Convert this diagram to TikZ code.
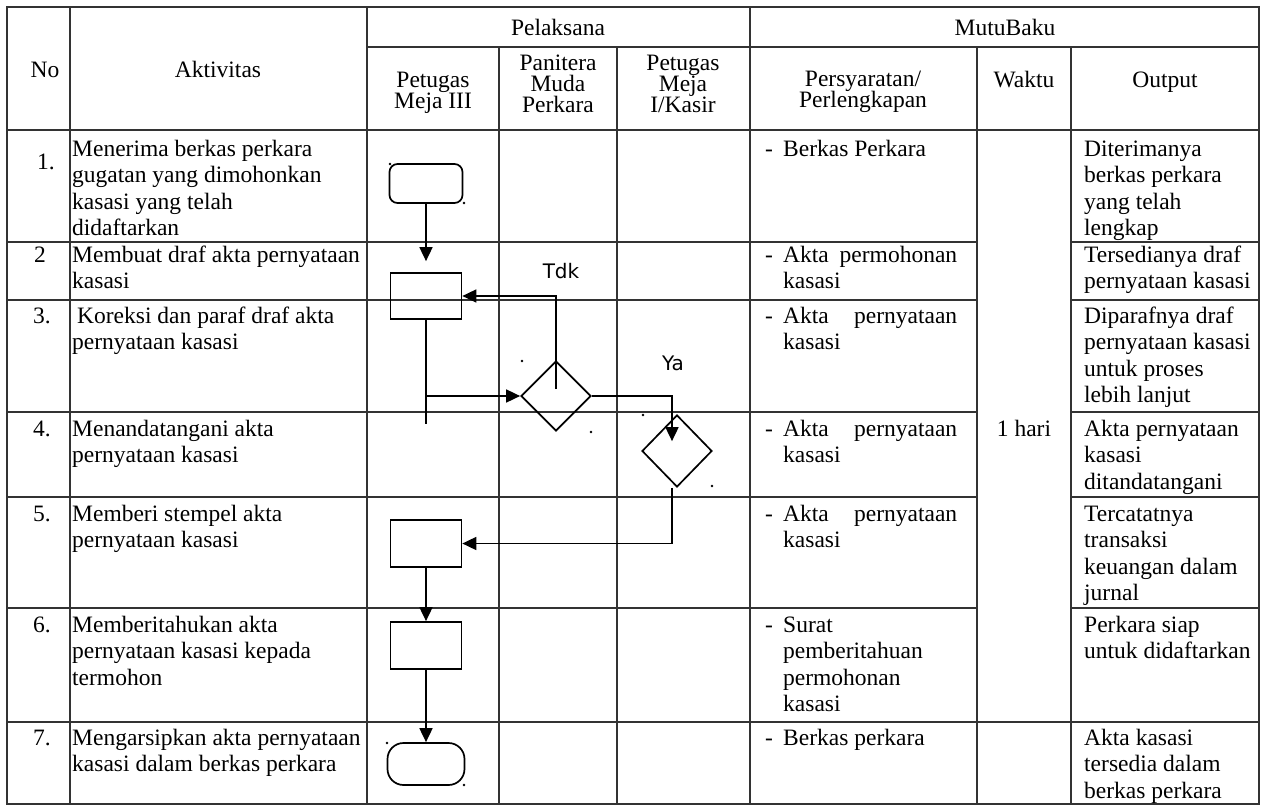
\documentclass[tikz,border=0pt]{standalone}
\usepackage{fontspec}
\setmainfont{Liberation Serif}
\newfontfamily\dvsans{DejaVu Sans}
\usetikzlibrary{arrows.meta,shapes.geometric,calc}
\newcommand\bodyf{\fontsize{23.5}{26.5}\selectfont\lineskiplimit=-30pt\relax}
\newcommand\headf{\fontsize{23.5}{21}\selectfont\lineskiplimit=-30pt\relax}
\newcommand\fst{\rule{0pt}{19pt}}
\begin{document}
\begin{tikzpicture}[x=1pt,y=-1pt,
  grid/.style={line width=1.6pt, draw=black!80},
  flow/.style={line width=1.7pt, draw=black},
  arr/.style={flow, -{Triangle[length=14pt,width=13pt]}},
  procbox/.style={draw, line width=1.7pt, minimum width=71pt, minimum height=46pt, inner sep=0pt},
  termbox/.style={draw, line width=1.7pt, rounded corners=8pt, inner sep=0pt},
  decbox/.style={draw, diamond, line width=1.7pt, inner sep=0pt, minimum width=70pt, minimum height=70pt},
  txt/.style={anchor=north west, inner sep=0pt, align=left, font=\bodyf, yshift=19pt},
  hdr/.style={anchor=north, inner sep=0pt, align=center, font=\headf, yshift=19pt},
  num/.style={anchor=base west, inner sep=0pt, font=\bodyf},
  htxt/.style={anchor=base, inner sep=0pt, font=\bodyf},
  lbl/.style={inner sep=0pt, font=\dvsans\fontsize{20}{24}\selectfont},
  dotm/.style={fill=black, circle, inner sep=0pt, minimum size=2.6pt}
]
\useasboundingbox (0,0) rectangle (1270,806);

% ---------- table grid ----------
\draw[grid] (7,7) rectangle (1259,804);
\draw[grid] (367,47) -- (1259,47);
\draw[grid] (7,130) -- (1259,130);
\foreach \yy in {242,300,412,497,608} {
  \draw[grid] (7,\yy) -- (977,\yy);
  \draw[grid] (1071,\yy) -- (1259,\yy);
}
\draw[grid] (7,722) -- (1259,722);
\foreach \xx in {70,367,750} \draw[grid] (\xx,7) -- (\xx,804);
\foreach \xx in {499,617,977,1071} \draw[grid] (\xx,47) -- (\xx,804);

% ---------- header ----------
\node[htxt] (hpel) at (558,35) {Pelaksana};
\node[htxt] (hmut) at (1005,35) {MutuBaku};
\node[htxt] (hno) at (45,77) {No};
\node[htxt] (hakt) at (218,77) {Aktivitas};
\node[hdr] (hp3) at (433,87) {\fst Petugas\\Meja III};
\node[hdr] (hpan) at (558,70) {\fst Panitera\\Muda\\Perkara};
\node[hdr] (hkas) at (683,70) {\fst Petugas\\Meja\\I/Kasir};
\node[hdr] (hper) at (863,86) {\fst Persyaratan/\\Perlengkapan};
\node[hdr] (hwak) at (1024,87) {\fst Waktu};
\node[hdr] (hout) at (1165,87) {\fst Output};

% ---------- row 1 ----------
\node[num] (n1) at (37,169) {1.};
\node[txt] (a1) at (72,156) {\fst Menerima berkas perkara\\gugatan yang dimohonkan\\kasasi yang telah\\didaftarkan};
\node[num] (m1) at (765,156) {-};
\node[txt] (r1) at (783,156) {\fst Berkas Perkara};
\node[txt] (o1) at (1084,156) {\fst Diterimanya\\berkas perkara\\yang telah\\lengkap};

% ---------- row 2 ----------
\node[num] (n2) at (34,262) {2};
\node[txt] (a2) at (72,262) {\fst Membuat draf akta pernyataan\\kasasi};
\node[num] (m2) at (765,262) {-};
\node[txt] (r2) at (783,262) {\fst\makebox[174pt][s]{Akta permohonan}\\kasasi};
\node[txt] (o2) at (1084,262) {\fst Tersedianya draf\\pernyataan kasasi};

% ---------- row 3 ----------
\node[num] (n3) at (33,323) {3.};
\node[txt] (a3) at (72,323) {\fst\hspace*{5pt}Koreksi dan paraf draf akta\\pernyataan kasasi};
\node[num] (m3) at (765,323) {-};
\node[txt] (r3) at (783,323) {\fst\makebox[174pt][s]{Akta pernyataan}\\kasasi};
\node[txt] (o3) at (1084,323) {\fst Diparafnya draf\\pernyataan kasasi\\untuk proses\\lebih lanjut};

% ---------- row 4 ----------
\node[num] (n4) at (33,436) {4.};
\node[txt] (a4) at (72,436) {\fst Menandatangani akta\\pernyataan kasasi};
\node[num] (m4) at (765,436) {-};
\node[txt] (r4) at (783,436) {\fst\makebox[174pt][s]{Akta pernyataan}\\kasasi};
\node[htxt] (w4) at (1024,436) {1 hari};
\node[txt] (o4) at (1084,436) {\fst Akta pernyataan\\kasasi\\ditandatangani};

% ---------- row 5 ----------
\node[num] (n5) at (33,521) {5.};
\node[txt] (a5) at (72,521) {\fst Memberi stempel akta\\pernyataan kasasi};
\node[num] (m5) at (765,521) {-};
\node[txt] (r5) at (783,521) {\fst\makebox[174pt][s]{Akta pernyataan}\\kasasi};
\node[txt] (o5) at (1084,521) {\fst Tercatatnya\\transaksi\\keuangan dalam\\jurnal};

% ---------- row 6 ----------
\node[num] (n6) at (33,632) {6.};
\node[txt] (a6) at (72,632) {\fst Memberitahukan akta\\pernyataan kasasi kepada\\termohon};
\node[num] (m6) at (765,632) {-};
\node[txt] (r6) at (783,632) {\fst Surat\\pemberitahuan\\permohonan\\kasasi};
\node[txt] (o6) at (1084,632) {\fst Perkara siap\\untuk didaftarkan};

% ---------- row 7 ----------
\node[num] (n7) at (33,745) {7.};
\node[txt] (a7) at (72,745) {\fst Mengarsipkan akta pernyataan\\kasasi dalam berkas perkara};
\node[num] (m7) at (765,745) {-};
\node[txt] (r7) at (783,745) {\fst Berkas perkara};
\node[txt] (o7) at (1084,745) {\fst Akta kasasi\\tersedia dalam\\berkas perkara};

% ---------- flowchart ----------
\node[termbox, minimum width=73pt, minimum height=39pt] (start) at (426,183.5) {};
\node[procbox] (b2) at (426,296) {};
\node[decbox] (d1) at (556,396) {};
\node[decbox, minimum height=72pt] (d2) at (677,451) {};
\node[procbox, minimum height=47pt] (b5) at (426,543.5) {};
\node[procbox, minimum height=47pt] (b6) at (426,645.5) {};
\node[termbox, rounded corners=16pt, minimum width=77pt, minimum height=42pt] (finish) at (426,764) {};

\node[lbl] (tdk) at (561,271) {Tdk};
\node[lbl] (ya) at (673,363) {Ya};

\coordinate (t1) at ($(b2.north)+(0,-11)$);
\draw[arr] (start.south) -- (t1);
\coordinate (c1) at ($(b2.south)+(0,104)$);
\draw[flow] (b2.south) -- (c1);
\draw[arr] (b2.south |- d1.west) -- (d1.west);
\coordinate (fb) at ($(d1.center)+(0,-7)$);
\draw[arr] (fb) |- (b2.east);
\coordinate (yt) at ($(d2.north)+(-5,27)$);
\draw[arr] (d1.east) -| (yt);
\coordinate (d2o) at ($(d2.south)+(-5,0)$);
\draw[arr] (d2o) |- (b5.east);
\draw[arr] (b5.south) -- (b6.north);
\draw[arr] (b6.south) -- (finish.north);

% small stray marks
\node[dotm] (k1) at (390,164) {};
\node[dotm] (k2) at (464,203) {};
\node[dotm] (k3) at (522,361) {};
\node[dotm] (k4) at (591,432) {};
\node[dotm] (k5) at (643,415) {};
\node[dotm] (k6) at (712,486) {};
\node[dotm] (k7) at (387,743) {};
\node[dotm] (k8) at (464,785) {};
\end{tikzpicture}
\end{document}
